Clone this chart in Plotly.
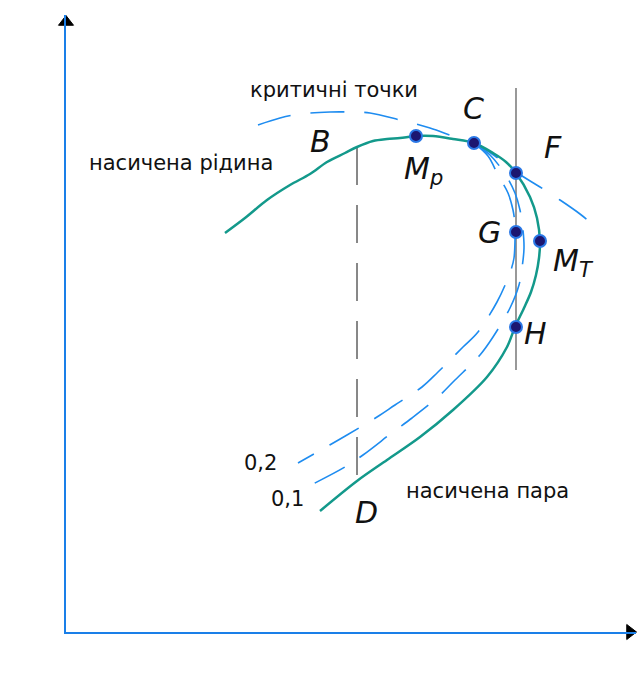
import plotly.graph_objects as go

# Saturation envelope (teal) from the liquid branch over the top to the vapour branch
sat_T = [159, 179, 201, 224, 244, 261, 279, 291, 307, 321, 334, 350, 367, 387, 408,
         427, 440, 450, 464, 471, 474, 473, 470, 465, 458, 449, 441, 421, 387, 354,
         321, 291, 254]
sat_p = [399, 414, 432, 447, 458, 470, 479, 485, 491, 493, 494, 496, 496, 493, 489,
         479, 470, 459, 435, 414, 390, 374, 357, 340, 324, 305, 285, 255, 222, 195,
         172, 151, 121]

# Constant-quality lines x = 0,2 and x = 0,1
q02_T = [408, 422, 432, 442, 447, 449, 449, 448, 445, 440, 431, 412, 397, 372, 356,
         329, 311, 281, 262, 232]
q02_p = [489, 476, 457, 439, 422, 407, 392, 374, 362, 349, 330, 300, 285, 260, 245,
         227, 215, 197, 186, 169]
q01_T = [408, 424, 439, 449, 454, 457, 458, 456, 453, 444, 427, 414, 389, 372, 346,
         327, 297, 279, 247]
q01_p = [489, 477, 458, 439, 422, 402, 384, 364, 347, 324, 295, 277, 252, 235, 214,
         200, 177, 165, 148]

# Locus of critical points
crit_T = [192, 214, 234, 264, 284, 304, 334, 364, 389, 408, 429, 450, 474, 494, 514, 531]
crit_p = [507, 514, 518, 520, 520, 519, 512, 504, 495, 489, 476, 460, 445, 432, 418, 404]

# Isotherm through F, G, H and the vertical through B, D
iso_T = [450, 450]
iso_p = [544, 262]
bd_T = [291, 291]
bd_p = [485, 155]

# Marked states
pt_names = ["Mp", "C", "F", "G", "MT", "H"]
pt_T = [350, 408, 450, 450, 474, 450]
pt_p = [496, 489, 459, 400, 391, 305]

# Text labels: (text, T, p, size)
labels = [
    ("критичні точки", 268, 542, 21),
    ("насичена рідина", 115, 469, 21),
    ("насичена пара", 421, 141, 21),
    ("0,2", 194, 169, 21),
    ("0,1", 221, 133, 21),
    ("<i>B</i>", 254, 491, 30),
    ("<i>C</i>", 407, 524, 30),
    ("<i>F</i>", 487, 485, 30),
    ("<i>G</i>", 423, 400, 30),
    ("<i>M</i><sub><i>p</i></sub>", 357, 462, 30),
    ("<i>M</i><sub><i>T</i></sub>", 507, 370, 30),
    ("<i>H</i>", 469, 299, 30),
    ("<i>D</i>", 300, 120, 30),
    ("<i>p</i>", -38, 370, 32),
    ("<i>T</i>", 289, -36, 32),
]

# Axis ends (arrowheads)
arrow_T = [0, 564]
arrow_p = [610, 0]
arrow_sym = ["triangle-up", "triangle-right"]

TEAL = "#13998b"
BLUE = "#1e8cf0"
AXIS = "#1a7fe8"

fig = go.Figure()

fig.add_trace(go.Scatter(x=bd_T, y=bd_p, mode="lines",
                         line=dict(color="#111111", width=1, dash="38px,20px")))
fig.add_trace(go.Scatter(x=iso_T, y=iso_p, mode="lines",
                         line=dict(color="#7f7f7f", width=1.6)))
fig.add_trace(go.Scatter(x=crit_T, y=crit_p, mode="lines", line_shape="spline",
                         line=dict(color=BLUE, width=1.6, dash="34px,20px")))
fig.add_trace(go.Scatter(x=q02_T, y=q02_p, mode="lines", line_shape="spline",
                         line=dict(color=BLUE, width=1.6, dash="34px,18px")))
fig.add_trace(go.Scatter(x=q01_T, y=q01_p, mode="lines", line_shape="spline",
                         line=dict(color=BLUE, width=1.6, dash="34px,18px")))
fig.add_trace(go.Scatter(x=sat_T, y=sat_p, mode="lines", line_shape="spline",
                         line=dict(color=TEAL, width=2.5, smoothing=0.9)))
fig.add_trace(go.Scatter(x=pt_T, y=pt_p, mode="markers", text=pt_names,
                         marker=dict(size=12, color="#1c1670",
                                     line=dict(color="#2a78e6", width=2))))
fig.add_trace(go.Scatter(x=arrow_T, y=arrow_p, mode="markers", cliponaxis=False,
                         marker=dict(symbol=arrow_sym, size=13, color="#000000",
                                     opacity=1, line=dict(width=1, color="#000000"))))

for txt, tx, ty, sz in labels:
    fig.add_annotation(x=tx, y=ty, text=txt, showarrow=False,
                       font=dict(family="DejaVu Sans", size=sz, color="#111111"))

fig.update_layout(
    width=638, height=682,
    margin=dict(l=66, r=2, t=15, b=50),
    paper_bgcolor="white", plot_bgcolor="white",
    showlegend=False,
    xaxis=dict(range=[0, 570], showline=True, linecolor=AXIS, linewidth=2,
               showgrid=False, zeroline=False, showticklabels=False, ticks=""),
    yaxis=dict(range=[0, 617], showline=True, linecolor=AXIS, linewidth=2,
               showgrid=False, zeroline=False, showticklabels=False, ticks=""),
)

fig.write_html("out.html")
